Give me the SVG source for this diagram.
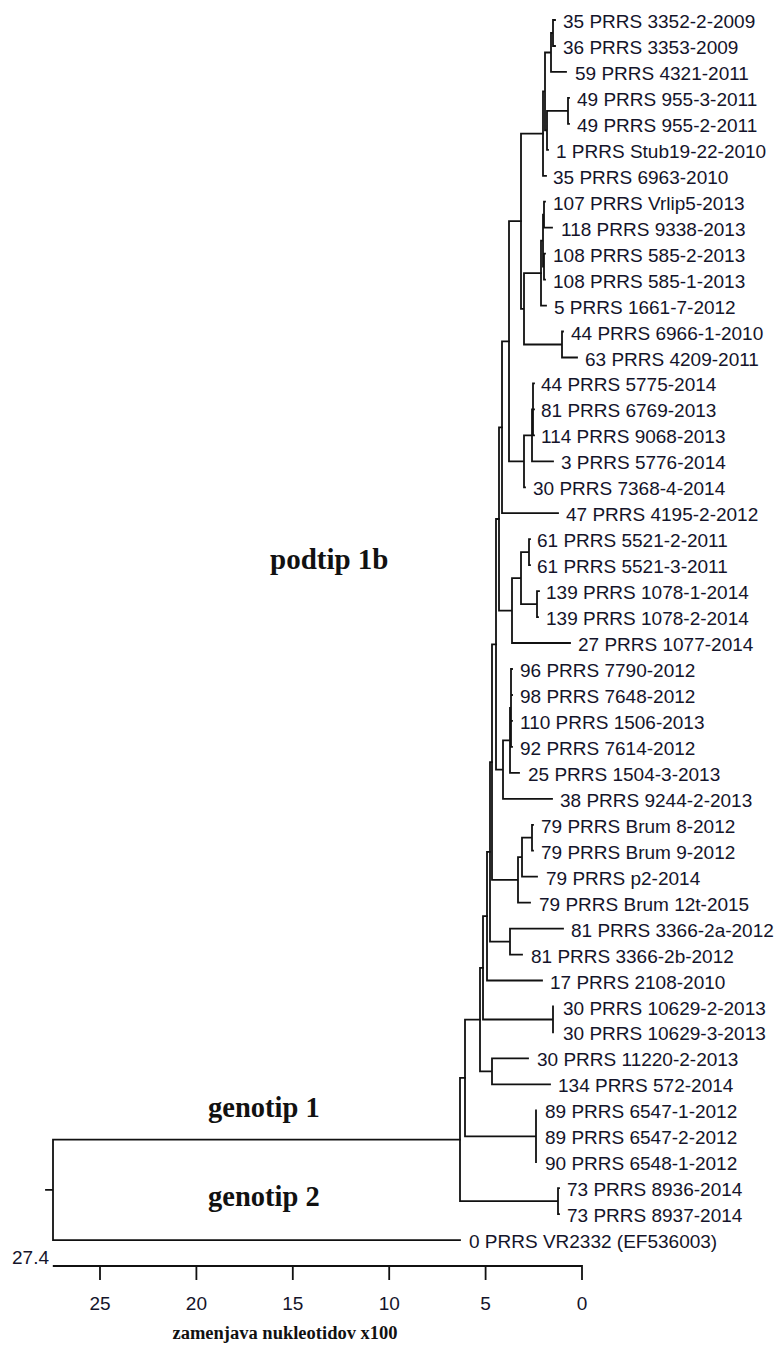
<svg xmlns="http://www.w3.org/2000/svg" width="782" height="1346" viewBox="0 0 782 1346">
<style>
.e{fill:none;stroke:#111;stroke-width:1.8;stroke-linecap:square}
.l{font-family:"Liberation Sans",Arial,sans-serif;font-size:19px;fill:#14142a}
.b{font-family:"Liberation Serif","Times New Roman",serif;font-weight:bold;fill:#111}
.t{font-family:"Liberation Sans",Arial,sans-serif;font-size:19px;fill:#14142a;text-anchor:middle}
</style>
<rect width="782" height="1346" fill="#fff"/>
<g id="connectors" class="e">
<path d="M46 1189.9H53 M53 1139.6V1240.1 M53 1139.6H460 M53 1240.1H460"/>
<path d="M460 1077.9V1201.2 M460 1077.9H465 M460 1201.2H558 M558 1188.2V1214.2 M558 1188.2H559 M558 1214.2H559"/>
<path d="M465 1019.6V1136.3 M465 1019.6H480 M465 1136.3H536 M536 1110.3V1162.2"/>
<path d="M480 967.8V1071.4 M480 967.8H483 M480 1071.4H492 M492 1058.4V1084.4 M492 1058.4H528 M492 1084.4H550"/>
<path d="M483 916.2V1019.5 M483 916.2H487 M483 1019.5H553 M553 1006.5V1032.4"/>
<path d="M487 851.9V980.5 M487 851.9H490 M487 980.5H542"/>
<path d="M490 762.1V941.6 M490 762.1H492 M490 941.6H510 M510 928.6V954.6 M510 928.6H563 M510 954.6H522"/>
<path d="M492 644.3V879.9 M492 644.3H496 M492 879.9H518 M518 857.2V902.6 M518 857.2H522 M518 902.6H530 M522 837.7V876.7 M522 837.7H532 M522 876.7H537 M532 824.8V850.7 M532 824.8H533 M532 850.7H533"/>
<path d="M496 519V769.6 M496 519H499 M496 769.6H503 M503 740.4V798.8 M503 740.4H510 M503 798.8H552 M510 708V772.8 M510 708H511 M510 772.8H519 M511 669V746.9 M511 669H512 M511 695H512 M511 720.9H512 M511 746.9H512"/>
<path d="M499 427.3V610.6 M499 427.3H502 M499 610.6H512 M512 578.2V643 M512 578.2H521 M512 643H570 M521 552.2V604.1 M521 552.2H529 M521 604.1H537 M529 539.2V565.2 M529 539.2H530 M529 565.2H530 M537 591.1V617.1 M537 591.1H539 M537 617.1H538"/>
<path d="M502 341.3V513.2 M502 341.3H509 M502 513.2H558"/>
<path d="M509 221.2V461.3 M509 221.2H521 M509 461.3H524 M524 435.4V487.3 M524 435.4H532 M524 487.3H525 M532 409.4V461.3 M532 409.4H533 M532 461.3H553 M533 383.4V435.4 M533 383.4H534 M533 409.4H534 M533 435.4H534"/>
<path d="M521 133.6V308.8 M521 133.6H543 M521 308.8H524 M524 273.1V344.5 M524 273.1H541 M524 344.5H562 M562 331.5V357.5 M562 331.5H563 M562 357.5H577"/>
<path d="M541 240.7V305.6 M541 240.7H543 M541 305.6H546 M543 214.7V266.6 M543 214.7H544 M543 266.6H544 M544 201.7V227.7 M544 201.7H545 M544 227.7H552 M544 253.6V279.6 M544 253.6H545 M544 279.6H545"/>
<path d="M543 91.4V175.8 M543 91.4H545 M543 175.8H546 M545 52.5V130.3 M545 52.5H551 M545 130.3H547 M547 110.9V149.8 M547 110.9H568 M547 149.8H548 M568 97.9V123.8 M568 97.9H569 M568 123.8H569 M551 33V71.9 M551 33H553 M551 71.9H566 M553 20V46 M553 20H555 M553 46H555"/>
</g>
<g id="leaves" class="l">
<g id="n1"><text x="563" y="28">35 PRRS 3352-2-2009</text></g>
<g id="n2"><text x="563" y="54">36 PRRS 3353-2009</text></g>
<g id="n3"><text x="575" y="79.9">59 PRRS 4321-2011</text></g>
<g id="n4"><text x="577" y="105.9">49 PRRS 955-3-2011</text></g>
<g id="n5"><text x="577" y="131.8">49 PRRS 955-2-2011</text></g>
<g id="n6"><text x="556" y="157.8">1 PRRS Stub19-22-2010</text></g>
<g id="n7"><text x="553" y="183.8">35 PRRS 6963-2010</text></g>
<g id="n8"><text x="553" y="209.7">107 PRRS Vrlip5-2013</text></g>
<g id="n9"><text x="561" y="235.7">118 PRRS 9338-2013</text></g>
<g id="n10"><text x="553" y="261.6">108 PRRS 585-2-2013</text></g>
<g id="n11"><text x="553" y="287.6">108 PRRS 585-1-2013</text></g>
<g id="n12"><text x="554" y="313.6">5 PRRS 1661-7-2012</text></g>
<g id="n13"><text x="571" y="339.5">44 PRRS 6966-1-2010</text></g>
<g id="n14"><text x="585" y="365.5">63 PRRS 4209-2011</text></g>
<g id="n15"><text x="541" y="391.4">44 PRRS 5775-2014</text></g>
<g id="n16"><text x="541" y="417.4">81 PRRS 6769-2013</text></g>
<g id="n17"><text x="541" y="443.4">114 PRRS 9068-2013</text></g>
<g id="n18"><text x="561" y="469.3">3 PRRS 5776-2014</text></g>
<g id="n19"><text x="533" y="495.3">30 PRRS 7368-4-2014</text></g>
<g id="n20"><text x="566" y="521.2">47 PRRS 4195-2-2012</text></g>
<g id="n21"><text x="537" y="547.2">61 PRRS 5521-2-2011</text></g>
<g id="n22"><text x="537" y="573.2">61 PRRS 5521-3-2011</text></g>
<g id="n23"><text x="546" y="599.1">139 PRRS 1078-1-2014</text></g>
<g id="n24"><text x="546" y="625.1">139 PRRS 1078-2-2014</text></g>
<g id="n25"><text x="578" y="651">27 PRRS 1077-2014</text></g>
<g id="n26"><text x="520" y="677">96 PRRS 7790-2012</text></g>
<g id="n27"><text x="520" y="703">98 PRRS 7648-2012</text></g>
<g id="n28"><text x="520" y="728.9">110 PRRS 1506-2013</text></g>
<g id="n29"><text x="520" y="754.9">92 PRRS 7614-2012</text></g>
<g id="n30"><text x="528" y="780.8">25 PRRS 1504-3-2013</text></g>
<g id="n31"><text x="560" y="806.8">38 PRRS 9244-2-2013</text></g>
<g id="n32"><text x="541" y="832.8">79 PRRS Brum 8-2012</text></g>
<g id="n33"><text x="541" y="858.7">79 PRRS Brum 9-2012</text></g>
<g id="n34"><text x="546" y="884.7">79 PRRS p2-2014</text></g>
<g id="n35"><text x="539" y="910.6">79 PRRS Brum 12t-2015</text></g>
<g id="n36"><text x="571" y="936.6">81 PRRS 3366-2a-2012</text></g>
<g id="n37"><text x="531" y="962.6">81 PRRS 3366-2b-2012</text></g>
<g id="n38"><text x="550" y="988.5">17 PRRS 2108-2010</text></g>
<g id="n39"><text x="563" y="1014.5">30 PRRS 10629-2-2013</text></g>
<g id="n40"><text x="563" y="1040.4">30 PRRS 10629-3-2013</text></g>
<g id="n41"><text x="537" y="1066.4">30 PRRS 11220-2-2013</text></g>
<g id="n42"><text x="558" y="1092.4">134 PRRS 572-2014</text></g>
<g id="n43"><text x="545" y="1118.3">89 PRRS 6547-1-2012</text></g>
<g id="n44"><text x="545" y="1144.3">89 PRRS 6547-2-2012</text></g>
<g id="n45"><text x="545" y="1170.2">90 PRRS 6548-1-2012</text></g>
<g id="n46"><text x="567" y="1196.2">73 PRRS 8936-2014</text></g>
<g id="n47"><text x="567" y="1222.2">73 PRRS 8937-2014</text></g>
<g id="n48"><text x="469" y="1248.1">0 PRRS VR2332 (EF536003)</text></g>
</g>
<g id="clade-labels" class="b">
<text x="270" y="569" font-size="29">podtip 1b</text>
<text x="208" y="1117" font-size="28.5">genotip 1</text>
<text x="208" y="1206" font-size="28.5">genotip 2</text>
</g>
<g id="axis">
<path class="e" d="M53.7 1266H582 M100 1266V1279 M196.4 1266V1279 M292.8 1266V1279 M389.2 1266V1279 M485.6 1266V1279 M582 1266V1279"/>
<text class="l" x="49" y="1264" text-anchor="end">27.4</text>
<text class="t" x="100" y="1310">25</text>
<text class="t" x="196.4" y="1310">20</text>
<text class="t" x="292.8" y="1310">15</text>
<text class="t" x="389.2" y="1310">10</text>
<text class="t" x="485.6" y="1310">5</text>
<text class="t" x="582" y="1310">0</text>
<text class="b" x="285" y="1339" font-size="18.5" text-anchor="middle">zamenjava nukleotidov x100</text>
</g>
</svg>
